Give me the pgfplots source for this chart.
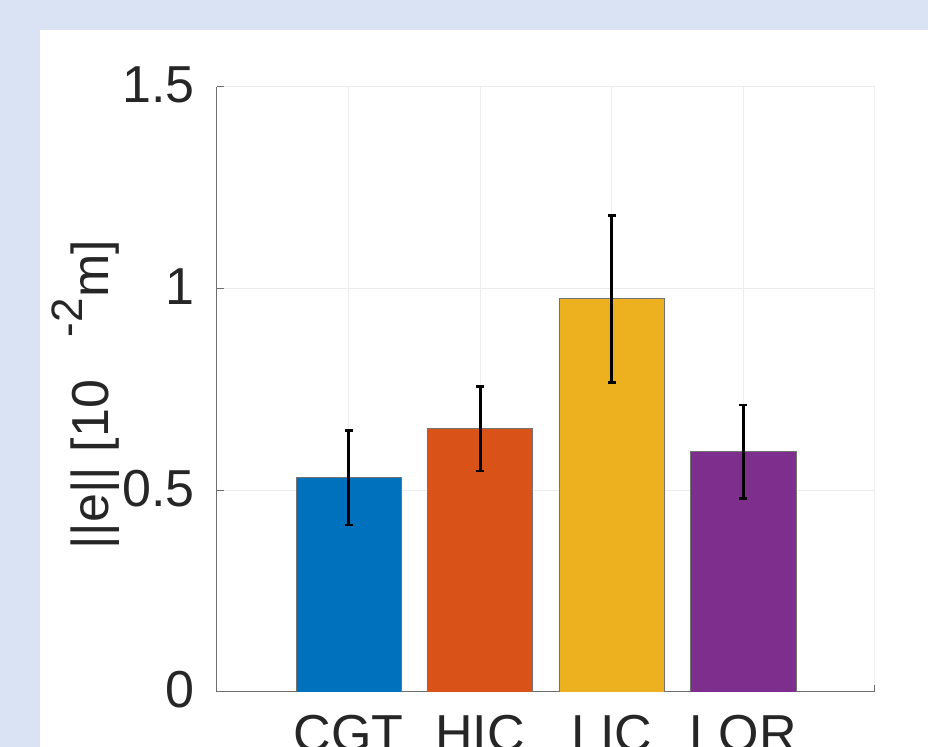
\documentclass[border=0pt]{standalone}
\usepackage{pgfplots}
\pgfplotsset{compat=1.18}
\usepackage{fontspec}
\setmainfont{Liberation Sans}
\definecolor{bgblue}{RGB}{218,227,243}
\definecolor{c1}{RGB}{0,114,189}
\definecolor{c2}{RGB}{217,83,25}
\definecolor{c3}{RGB}{237,177,32}
\definecolor{c4}{RGB}{126,47,142}
\definecolor{axc}{RGB}{110,110,110}
\definecolor{gridc}{RGB}{236,236,236}
\begin{document}
\begin{tikzpicture}
\useasboundingbox (-108.5pt,-27.5pt) rectangle (355.5pt,346pt);
\clip (-108.5pt,-27.5pt) rectangle (355.5pt,346pt);
\fill[bgblue] (-108.5pt,-27.5pt) rectangle (355.5pt,346pt);
\fill[white] (-88.5pt,-27.5pt) rectangle (355.5pt,331pt);
\begin{axis}[
  at={(0pt,0pt)}, anchor=south west,
  scale only axis, width=329pt, height=302.5pt,
  xmin=0, xmax=5, ymin=0, ymax=1.5,
  axis x line=bottom, axis y line=left,
  axis line style={-, axc, line width=0.5pt},
  tick align=inside, major tick length=3.3pt,
  tick style={axc, line width=0.5pt},
  grid=major, grid style={gridc, line width=0.5pt},
  xtick={0,1,2,3,4,5}, xticklabels={,CGT,HIC,LIC,LQR,},
  ytick={0,0.5,1,1.5}, yticklabels={0,0.5,1,1.5},
  xticklabel style={font=\fontsize{26}{31}\selectfont, inner sep=0pt, yshift=-11.5pt, text=black!85},
  yticklabel style={font=\fontsize{26}{31}\selectfont, inner sep=0pt, xshift=-11pt, yshift=1pt, text=black!85},
  ylabel={||e|| [10\hspace{21.5pt}\raisebox{13pt}{\fontsize{22}{26}\selectfont -2}m]},
  ylabel style={font=\fontsize{26}{31}\selectfont, at={(axis description cs:-0.1474,0.491)}, anchor=south, inner sep=0pt, text=black!85},
]
\addplot[ybar, bar width=0.8, bar shift=0pt, fill=c1, draw=black!55, line width=0.4pt,
  error bars/.cd, y dir=both, y explicit,
  error bar style={black, line width=1.5pt},
  error mark options={black, rotate=90, mark size=2pt, line width=1.3pt}]
  coordinates {(1,0.531) +- (0,0.117)};
\addplot[ybar, bar width=0.8, bar shift=0pt, fill=c2, draw=black!55, line width=0.4pt,
  error bars/.cd, y dir=both, y explicit,
  error bar style={black, line width=1.5pt},
  error mark options={black, rotate=90, mark size=2pt, line width=1.3pt}]
  coordinates {(2,0.653) +- (0,0.105)};
\addplot[ybar, bar width=0.8, bar shift=0pt, fill=c3, draw=black!55, line width=0.4pt,
  error bars/.cd, y dir=both, y explicit,
  error bar style={black, line width=1.5pt},
  error mark options={black, rotate=90, mark size=2pt, line width=1.3pt}]
  coordinates {(3,0.975) +- (0,0.207)};
\addplot[ybar, bar width=0.8, bar shift=0pt, fill=c4, draw=black!55, line width=0.4pt,
  error bars/.cd, y dir=both, y explicit,
  error bar style={black, line width=1.5pt},
  error mark options={black, rotate=90, mark size=2pt, line width=1.3pt}]
  coordinates {(4,0.596) +- (0,0.116)};
\end{axis}
\end{tikzpicture}
\end{document}
